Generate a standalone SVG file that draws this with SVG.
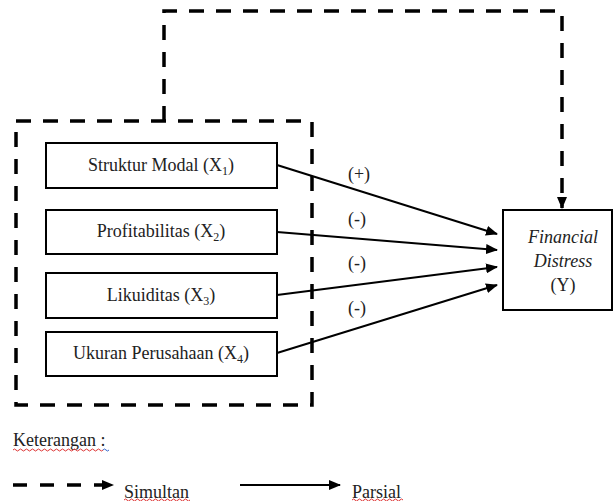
<svg xmlns="http://www.w3.org/2000/svg" width="614" height="501" viewBox="0 0 614 501">
<defs>
<marker id="ah" markerWidth="12" markerHeight="10" refX="11" refY="5" orient="auto" markerUnits="userSpaceOnUse">
<path d="M0,0 L12,5 L0,10 Z" fill="#000"/>
</marker>
<style>
.box{fill:#fff;stroke:#000;stroke-width:2}
.dash{fill:none;stroke:#000;stroke-width:3.5;stroke-dasharray:15 12}
.solid{fill:none;stroke:#000;stroke-width:2}
text{font-family:"Liberation Serif","Times New Roman",serif;font-size:18px;fill:#222}
.c{text-anchor:middle}
.s{font-size:12px}
.wave{fill:none;stroke:#d33;stroke-width:1}
</style>
</defs>
<rect width="614" height="501" fill="#fff"/>
<g id="simultan-group">
<rect x="16" y="121" width="296" height="284" class="dash"/>
</g>
<g id="x1"><rect x="46" y="143" width="231" height="45" class="box"/><text x="161" y="171" class="c">Struktur Modal (X<tspan class="s" dy="4">1</tspan><tspan dy="-4">)</tspan></text></g>
<g id="x2"><rect x="46" y="210" width="231" height="44" class="box"/><text x="161" y="237" class="c">Profitabilitas (X<tspan class="s" dy="4">2</tspan><tspan dy="-4">)</tspan></text></g>
<g id="x3"><rect x="46" y="273" width="231" height="45" class="box"/><text x="161" y="301" class="c">Likuiditas (X<tspan class="s" dy="4">3</tspan><tspan dy="-4">)</tspan></text></g>
<g id="x4"><rect x="46" y="332" width="231" height="44" class="box"/><text x="161" y="359" class="c">Ukuran Perusahaan (X<tspan class="s" dy="4">4</tspan><tspan dy="-4">)</tspan></text></g>
<g id="y"><rect x="503" y="210" width="109" height="100" class="box"/>
<text x="563" y="243" class="c" font-style="italic">Financial</text>
<text x="563" y="267" class="c" font-style="italic">Distress</text>
<text x="563" y="291" class="c">(Y)</text></g>
<g id="connectors">
<path d="M164,121 V11 H562 V208" class="dash" marker-end="url(#ah)"/>
<line x1="277" y1="165" x2="497" y2="234" class="solid" marker-end="url(#ah)"/>
<line x1="277" y1="232" x2="497" y2="250" class="solid" marker-end="url(#ah)"/>
<line x1="277" y1="295" x2="497" y2="267" class="solid" marker-end="url(#ah)"/>
<line x1="277" y1="353" x2="497" y2="285" class="solid" marker-end="url(#ah)"/>
<text x="359" y="180" class="c">(+)</text>
<text x="357" y="225" class="c">(-)</text>
<text x="357" y="269" class="c">(-)</text>
<text x="357" y="314" class="c">(-)</text>
</g>
<g id="legend">
<text x="13" y="446">Keterangan :</text>
<path d="M13,450 q1.5,-2 3,0 t3,0 t3,0 t3,0 t3,0 t3,0 t3,0 t3,0 t3,0 t3,0 t3,0 t3,0 t3,0 t3,0 t3,0 t3,0 t3,0 t3,0 t3,0 t3,0 t3,0 t3,0 t3,0 t3,0 t3,0 t3,0 t3,0 t3,0 t3,0 t3,0" class="wave"/>
<path d="M103,450 q1.5,-2 3,0 t3,0" fill="none" stroke="#36c" stroke-width="1"/>
<line x1="13" y1="485" x2="113" y2="485" class="dash" style="stroke-dasharray:14 13" marker-end="url(#ah)"/>
<text x="124" y="498">Simultan</text>
<path d="M124,500 q1.5,-2 3,0 t3,0 t3,0 t3,0 t3,0 t3,0 t3,0 t3,0 t3,0 t3,0 t3,0 t3,0 t3,0 t3,0 t3,0 t3,0 t3,0 t3,0 t3,0 t3,0 t3,0 t3,0" class="wave"/>
<line x1="240" y1="485" x2="340" y2="485" class="solid" stroke-width="3" marker-end="url(#ah)"/>
<text x="352" y="498">Parsial</text>
<path d="M352,500 q1.5,-2 3,0 t3,0 t3,0 t3,0 t3,0 t3,0 t3,0 t3,0 t3,0 t3,0 t3,0 t3,0 t3,0 t3,0 t3,0 t3,0 t3,0" class="wave"/>
</g>
</svg>
